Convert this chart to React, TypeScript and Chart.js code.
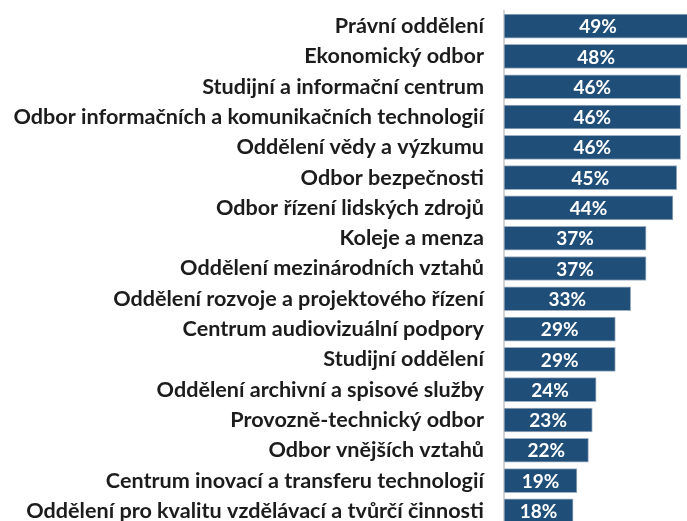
import React, { useEffect, useRef } from "react";
import { Chart, registerables } from "chart.js";

Chart.register(...registerables);

const categories = [
  "Právní oddělení",
  "Ekonomický odbor",
  "Studijní a informační centrum",
  "Odbor informačních a komunikačních technologií",
  "Oddělení vědy a výzkumu",
  "Odbor bezpečnosti",
  "Odbor řízení lidských zdrojů",
  "Koleje a menza",
  "Oddělení mezinárodních vztahů",
  "Oddělení rozvoje a projektového řízení",
  "Centrum audiovizuální podpory",
  "Studijní oddělení",
  "Oddělení archivní a spisové služby",
  "Provozně-technický odbor",
  "Odbor vnějších vztahů",
  "Centrum inovací a transferu technologií",
  "Oddělení pro kvalitu vzdělávací a tvůrčí činnosti",
];

const values = [49, 48, 46, 46, 46, 45, 44, 37, 37, 33, 29, 29, 24, 23, 22, 19, 18];

const valueLabels = values.map((v) => `${v}%`);

const AXIS_LEFT = 504;
const CANVAS_W = 696;
const CANVAS_H = 531;

const valueLabelPlugin = {
  id: "valueLabels",
  afterDatasetsDraw(chart: any) {
    const ctx = chart.ctx;
    const meta = chart.getDatasetMeta(0);
    ctx.save();
    ctx.fillStyle = "#ffffff";
    ctx.font = "bold 19px Lato, 'Open Sans', sans-serif";
    ctx.textAlign = "center";
    ctx.textBaseline = "middle";
    meta.data.forEach((bar: any, i: number) => {
      const cx = (bar.base + bar.x) / 2;
      ctx.fillText(valueLabels[i], cx, bar.y + 1);
    });
    ctx.restore();
  },
};

export default function App() {
  const ref = useRef<HTMLCanvasElement | null>(null);

  useEffect(() => {
    document.body.style.margin = "0";
    const canvas = ref.current!;
    const chart = new Chart(canvas, {
      type: "bar",
      data: {
        labels: categories,
        datasets: [
          {
            data: values,
            backgroundColor: "#1F4E79",
            borderColor: "#9fb0c2",
            borderWidth: 1,
            barThickness: 24,
            borderSkipped: false,
          },
        ],
      },
      options: {
        indexAxis: "y",
        animation: false,
        responsive: false,
        maintainAspectRatio: false,
        devicePixelRatio: 1,
        layout: { padding: { top: 11, bottom: 5, left: 0, right: 0 } },
        plugins: {
          legend: { display: false },
          tooltip: { enabled: false },
        },
        scales: {
          x: {
            display: false,
            min: 0,
            max: 50,
          },
          y: {
            afterFit: (scale: any) => {
              scale.width = AXIS_LEFT;
              scale.paddingTop = 0;
              scale.paddingBottom = 0;
            },
            grid: { display: false, drawTicks: false },
            border: { display: true, color: "#d4d4d4", width: 2 },
            ticks: {
              padding: 20,
              color: "#1c1c1c",
              font: { family: "Lato, 'Open Sans', sans-serif", size: 21.6, weight: "bold" },
              autoSkip: false,
            },
          },
        },
      },
      plugins: [valueLabelPlugin],
    });
    return () => chart.destroy();
  }, []);

  return (
    <div style={{ position: "fixed", left: 0, top: 0, width: 687, height: 521, overflow: "hidden", background: "#fff" }}>
      <canvas ref={ref} width={CANVAS_W} height={CANVAS_H} style={{ width: CANVAS_W, height: CANVAS_H, display: "block" }} />
    </div>
  );
}
